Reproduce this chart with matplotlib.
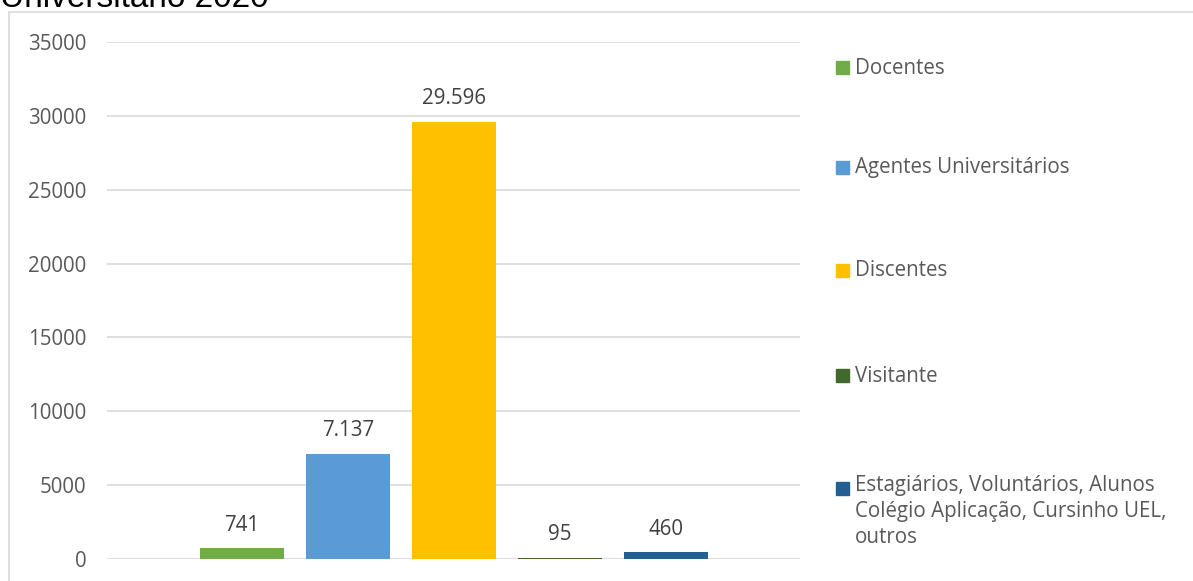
import matplotlib
matplotlib.use("Agg")
import matplotlib.pyplot as plt
from matplotlib.patches import Rectangle

categories = ["Docentes", "Agentes Universitários", "Discentes", "Visitante",
              "Estagiários, Voluntários, Alunos\nColégio Aplicação, Cursinho UEL,\noutros"]
values = [741, 7137, 29596, 95, 460]
colors = ["#70AD47", "#5B9BD5", "#FFC000", "#43682B", "#255E91"]
yticks = [0, 5000, 10000, 15000, 20000, 25000, 30000, 35000]
title = "Universitário 2020"

W, H = 1193, 581
fig = plt.figure(figsize=(W / 100, H / 100), dpi=100)
FONT = ["Open Sans", "DejaVu Sans"]
FS = 14.8

# chart-area border
fig.patches.append(Rectangle((9 / W, -0.1), 1.2, 1 - 12 / H + 0.1, transform=fig.transFigure,
                             fill=False, edgecolor="#D9D9D9", linewidth=1.2, clip_on=False))

fig.text(0 / W, 1 - 7 / H, title, family=["Liberation Sans", "DejaVu Sans"], fontsize=24,
         color="#000000", ha="left", va="baseline")

ax = fig.add_axes([107 / W, 1 - 559 / H, 693 / W, 517 / H])
x = list(range(len(values)))
ax.bar(x, values, width=0.79, color=colors, zorder=3)
ax.set_xlim(-1.274, 5.264)
ax.set_ylim(0, 35000)
ax.set_yticks(yticks)
ax.set_yticklabels([str(t) for t in yticks], family=FONT, fontsize=FS, color="#595959")
ax.tick_params(axis="y", length=0, pad=15)
ax.set_xticks([])
for s in ax.spines.values():
    s.set_visible(False)
ax.grid(axis="y", color="#D9D9D9", linewidth=1.2, zorder=0)

def fmt(v):
    return f"{v:,}".replace(",", ".")

for xi, v in zip(x, values):
    ax.annotate(fmt(v), (xi, v), xytext=(0, 9), textcoords="offset points",
                ha="center", va="bottom", family=FONT, fontsize=FS, color="#404040")

# legend
leg_y = [68, 168, 271, 376, 489]
for lab, c, yy in zip(categories, colors, leg_y):
    fig.patches.append(Rectangle((836 / W, 1 - (yy + 6) / H), 13 / W, 13 / H,
                                 transform=fig.transFigure, color=c))
    if "\n" in lab:
        fig.text(855 / W, 1 - (yy - 14) / H, lab, family=FONT, fontsize=FS, color="#595959",
                 ha="left", va="top", linespacing=1.32)
    else:
        fig.text(855 / W, 1 - yy / H, lab, family=FONT, fontsize=FS, color="#595959",
                 ha="left", va="center")

fig.savefig("out.png", dpi=100)
